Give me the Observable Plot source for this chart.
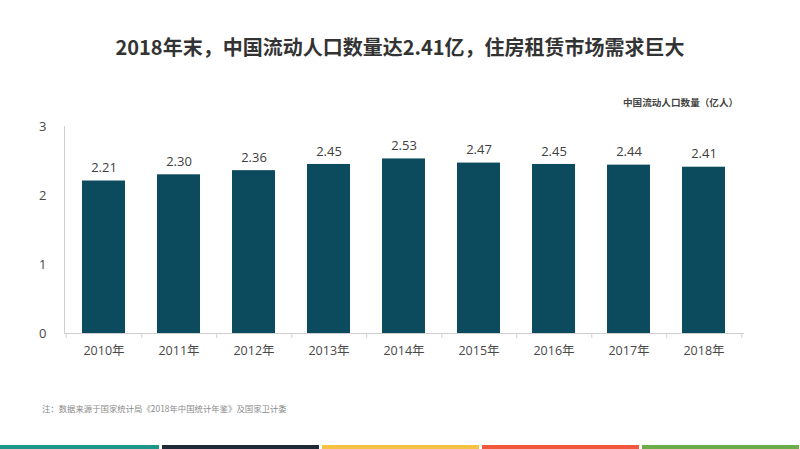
<!DOCTYPE html>
<html>
<head>
<meta charset="utf-8">
<script src="https://cdn.jsdelivr.net/npm/d3@7"></script>
<script src="https://cdn.jsdelivr.net/npm/@observablehq/plot@0.6"></script>
<style>
  html, body { margin: 0; padding: 0; background: #fff; }
  #wrap { position: relative; width: 800px; height: 449px; overflow: hidden; font-family: "Noto Sans CJK SC", "Noto Sans", sans-serif; }
  #title { position: absolute; top: 33px; left: 0; width: 800px; text-align: center; font-size: 20px; font-weight: 700; color: #333; line-height: 28px; }
  #legend { position: absolute; top: 95px; left: 623px; font-size: 9.6px; font-weight: 700; color: #444; line-height: 14px; white-space: nowrap; }
  #chart { position: absolute; top: 100px; left: 0; }
  #note { position: absolute; top: 402px; left: 42px; font-size: 8.4px; color: #8a8a8a; line-height: 12px; white-space: nowrap; }
  #stripes { position: absolute; top: 445px; left: 0; width: 800px; height: 4px; }
  #stripes div { position: absolute; top: 0; height: 4px; }
</style>
</head>
<body>
<div id="wrap">
  <div id="title">2018年末，中国流动人口数量达2.41亿，住房租赁市场需求巨大</div>
  <div id="legend">中国流动人口数量（亿人）</div>
  <div id="chart"></div>
  <div id="note">注：数据来源于国家统计局《2018年中国统计年鉴》及国家卫计委</div>
  <div id="stripes"></div>
</div>
<script>
const years = ["2010年","2011年","2012年","2013年","2014年","2015年","2016年","2017年","2018年"];
const values = [2.21, 2.30, 2.36, 2.45, 2.53, 2.47, 2.45, 2.44, 2.41];
const labels = ["2.21","2.30","2.36","2.45","2.53","2.47","2.45","2.44","2.41"];
const yTicks = [0, 1, 2, 3];
const stripeColors = ["#1b9688", "#1e2a38", "#f6c244", "#f0573d", "#6aad4a"];

const data = years.map((y, i) => ({year: y, value: values[i], label: labels[i]}));

const W = 800, H = 270, mL = 64, mR = 56, mT = 26, mB = 37;
const step = (W - mL - mR) / years.length;
const tickLen = 0.075;

const chart = Plot.plot({
  width: W,
  height: H,
  marginLeft: mL,
  marginRight: mR,
  marginTop: mT,
  marginBottom: mB,
  style: {fontFamily: "'Open Sans', 'Noto Sans CJK SC', sans-serif", background: "transparent"},
  x: {domain: years, paddingInner: 0.425, paddingOuter: 0.2125, label: null},
  y: {domain: [0, 3], label: null},
  marks: [
    Plot.frame({anchor: "left", stroke: "#cfcfcf"}),
    Plot.ruleY([0], {stroke: "#cfcfcf"}),
    Plot.ruleX(years, {x: d => d, dx: step / 2, y1: 0, y2: -tickLen, stroke: "#cfcfcf"}),
    Plot.ruleX([years[0]], {x: d => d, dx: -step / 2, y1: 0, y2: -tickLen, stroke: "#cfcfcf"}),
    Plot.barY(data, {x: "year", y: "value", fill: "#0c4a5e"}),
    Plot.text(data, {x: "year", y: "value", text: "label", dy: -13, fontSize: 13, fill: "#404040"}),
    Plot.axisY({ticks: yTicks, tickSize: 0, tickPadding: 18, fontSize: 13, color: "#484848", tickFormat: d => String(d)}),
    Plot.axisX({tickSize: 0, tickPadding: 13, fontSize: 12.5, color: "#484848"})
  ]
});
document.getElementById("chart").appendChild(chart);

const stripes = document.getElementById("stripes");
const segW = 800 / stripeColors.length;
stripeColors.forEach((c, i) => {
  const d = document.createElement("div");
  d.style.left = (i * segW + (i ? 1.5 : 0)) + "px";
  d.style.width = (segW - (i ? 3 : 1.5)) + "px";
  d.style.background = c;
  stripes.appendChild(d);
});
</script>
</body>
</html>
